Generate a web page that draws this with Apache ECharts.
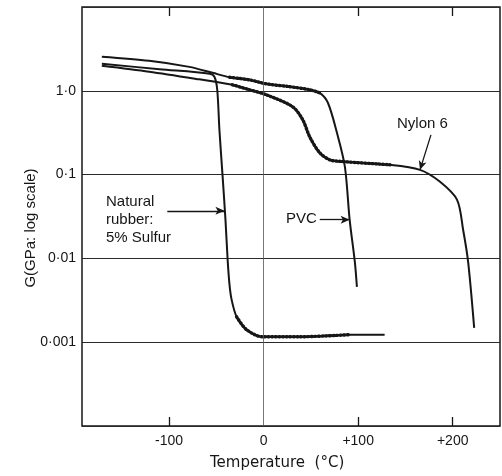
<!DOCTYPE html>
<html>
<head>
<meta charset="utf-8">
<title>Shear modulus vs temperature</title>
<script src="https://cdn.jsdelivr.net/npm/echarts@6/dist/echarts.min.js"></script>
<style>
    html, body { margin: 0; padding: 0; background: #fff; }
    #chart { width: 502px; height: 476px; }
</style>
</head>
<body>
<div id="chart"></div>
<script>
// data: [temperature (°C), G (GPa)]
var rubberData = [
    [-171, 2.1], [-110, 1.81], [-57, 1.6], [-52, 1.47], [-49, 1.03],
    [-46.7, 0.343], [-43.5, 0.102], [-40.3, 0.029], [-38, 0.0096],
    [-36, 0.00484], [-33.8, 0.00322], [-28.5, 0.00201], [-18, 0.00141],
    [-1, 0.00116], [38, 0.00116], [91, 0.00123], [128, 0.00123]
];
var pvcData = [
    [-171, 2.55], [-121, 2.28], [-78.5, 1.93], [-54, 1.64], [-36, 1.45],
    [-15, 1.35], [3, 1.21], [27.5, 1.12], [48.6, 1.03], [59.4, 0.946],
    [68, 0.72], [77.6, 0.315], [86, 0.124], [91, 0.029], [96.5, 0.0091],
    [98.7, 0.00457]
];
var nylonData = [
    [-171, 1.99], [-121, 1.69], [-68, 1.37], [-33, 1.18], [-15, 1.03],
    [3, 0.895], [30.8, 0.644], [41.4, 0.451], [48.8, 0.282], [59.4, 0.182],
    [70, 0.15], [80.6, 0.144], [133.6, 0.131], [165.4, 0.114], [186.6, 0.082],
    [204.6, 0.05], [211, 0.022], [216.3, 0.0091], [222.7, 0.00148]
];
// temperature ranges where the curves are drawn beaded
var rubberBeads = [-30, 95];
var pvcBeads = [-50, 60];
var nylonBeads = [-50, 150];

var xTicks = [-100, 100, 200];
var xLabels = [-100, 0, 100, 200];
var yLabels = { '0': '1·0', '-1': '0·1', '-2': '0·01', '-3': '0·001' };

// arrows for the labels: [from, to]
var rubberArrow = [[-101.8, 0.037], [-41.4, 0.037]];
var pvcArrow = [[59.4, 0.029], [91, 0.029]];
var nylonArrow = [[177, 0.298], [165.4, 0.114]];

var ink = '#161616';
var font = '"Liberation Sans", Arial, sans-serif';

var pick = function (data, range) {
    return data.filter(function (p) { return p[0] >= range[0] && p[0] <= range[1]; });
};

var curve = function (data) {
    return {
        type: 'line', data: data, showSymbol: false, smooth: 0.3,
        lineStyle: { color: ink, width: 2 }, z: 3, silent: true
    };
};

var beads = function (data) {
    return {
        type: 'line', data: data, showSymbol: false, smooth: 0.3,
        lineStyle: { color: ink, width: 3.4, type: [1, 2.6], cap: 'round' }, z: 4, silent: true
    };
};

var arrow = function (pts) {
    return [{ coord: pts[0] }, { coord: pts[1] }];
};

var myChart = echarts.init(document.getElementById('chart'));
var option = {
    backgroundColor: '#fff',
    animation: false,
    grid: {
        left: 82, top: 7, right: 2, bottom: 50,
        show: true, borderColor: ink, borderWidth: 1.5
    },
    xAxis: [{
        type: 'value', min: -192, max: 250, position: 'bottom',
        axisLine: { show: false },
        axisTick: { show: true, inside: true, length: 9, customValues: xTicks, lineStyle: { color: ink, width: 1.3 } },
        axisLabel: {
            customValues: xLabels, margin: 8, color: ink, fontSize: 14, fontFamily: font,
            formatter: function (v) { return v > 0 ? '+' + v : String(v); }
        },
        splitLine: { show: false }
    }, {
        type: 'value', min: -192, max: 250, position: 'top',
        axisLine: { show: false },
        axisTick: { show: true, inside: true, length: 9, customValues: xTicks, lineStyle: { color: ink, width: 1.3 } },
        axisLabel: { show: false },
        splitLine: { show: false }
    }],
    yAxis: {
        type: 'log', logBase: 10, min: 0.0001, max: 10,
        axisLine: { show: false },
        axisTick: { show: false },
        axisLabel: {
            margin: 6, color: ink, fontSize: 14, fontFamily: font,
            formatter: function (v) {
                var k = String(Math.round(Math.log10(v)));
                return yLabels[k] || '';
            }
        },
        splitLine: { show: true, lineStyle: { color: '#2a2a2a', width: 1 } }
    },
    series: [
        curve(rubberData), curve(pvcData), curve(nylonData),
        beads(pick(rubberData, rubberBeads)), beads(pick(pvcData, pvcBeads)), beads(pick(nylonData, nylonBeads)),
        {
            // vertical line at 0 °C
            type: 'line', data: [], silent: true,
            markLine: {
                silent: true, animation: false, symbol: 'none',
                label: { show: false },
                lineStyle: { color: '#555', width: 0.8, type: 'solid' },
                data: [{ xAxis: 0 }]
            }
        },
        {
            // label arrows
            type: 'line', data: [], silent: true,
            markLine: {
                silent: true, animation: false,
                label: { show: false },
                symbol: ['none', 'arrow'], symbolSize: [6, 9],
                lineStyle: { color: ink, width: 1.3, type: 'solid' },
                data: [arrow(rubberArrow), arrow(pvcArrow), arrow(nylonArrow)]
            }
        }
    ],
    graphic: [
        { type: 'text', left: 106, top: 193, style: { text: 'Natural\nrubber:\n5% Sulfur', font: '15px ' + font, fill: ink, lineHeight: 18 } },
        { type: 'text', left: 286, top: 211, style: { text: 'PVC', font: '15px ' + font, fill: ink } },
        { type: 'text', left: 397, top: 116, style: { text: 'Nylon 6', font: '15px ' + font, fill: ink } },
        { type: 'text', left: 210, top: 456, style: { text: 'Temperature  (°C)', font: '15px "DejaVu Sans", sans-serif', fill: ink } },
        {
            type: 'text', x: 31, y: 228, rotation: Math.PI / 2,
            style: { text: 'G(GPa: log scale)', font: '15px ' + font, fill: ink, align: 'center', verticalAlign: 'middle' }
        }
    ]
};
myChart.setOption(option);
</script>
</body>
</html>
